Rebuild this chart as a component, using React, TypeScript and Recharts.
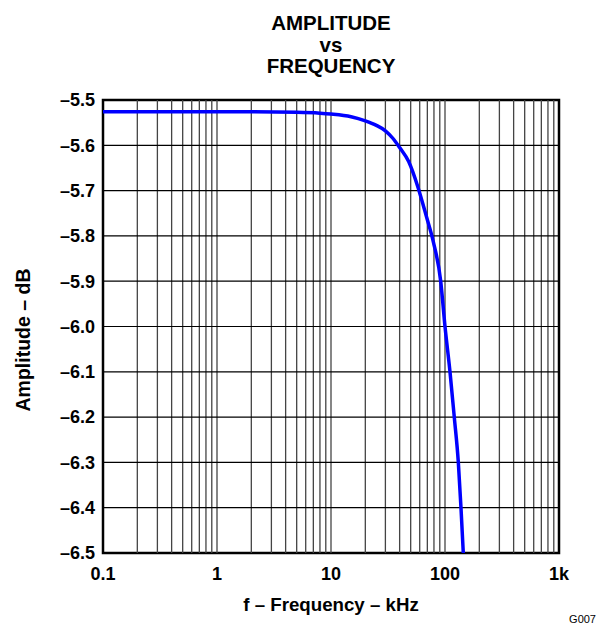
import { LineChart, Line, XAxis, YAxis, ReferenceLine, ReferenceArea } from "recharts";

// f (kHz) vs amplitude (dB)
const freqKHz = [0.1, 0.5, 1, 2, 5, 8, 10, 15, 20, 25, 30, 35, 40, 48, 58, 69, 79, 91.7, 100, 110.6, 120.6, 130.9, 138.1, 144.7];
const amplitudeDb = [-5.526, -5.526, -5.526, -5.526, -5.527, -5.529, -5.531, -5.537, -5.546, -5.556, -5.568, -5.585, -5.605, -5.636, -5.693, -5.759, -5.813, -5.9, -6.0, -6.1, -6.2, -6.3, -6.4, -6.5];

const xTicks = [0.1, 1, 10, 100, 1000];
const yTicks = [-6.5, -6.4, -6.3, -6.2, -6.1, -6.0, -5.9, -5.8, -5.7, -5.6, -5.5];
const xGrid = [
  0.2, 0.3, 0.4, 0.5, 0.6, 0.7, 0.8, 0.9, 1,
  2, 3, 4, 5, 6, 7, 8, 9, 10,
  20, 30, 40, 50, 60, 70, 80, 90, 100,
  200, 300, 400, 500, 600, 700, 800, 900,
];
const yGrid = [-6.4, -6.3, -6.2, -6.1, -6.0, -5.9, -5.8, -5.7, -5.6];

const data = freqKHz.map((f, i) => ({ f, db: amplitudeDb[i] }));

const font = "'Liberation Sans', Arial, sans-serif";
const tickStyle = { fill: "#000", fontSize: 18, fontWeight: 700, fontFamily: font };

const fmtX = (v: number) => (v === 1000 ? "1k" : String(v));
const fmtY = (v: number) => "\u2013" + Math.abs(v).toFixed(1);

export default function App() {
  return (
    <div style={{ position: "absolute", left: 0, top: 0, width: 597, height: 625, background: "#fff" }}>
      <LineChart
        width={597}
        height={625}
        data={data}
        margin={{ top: 100, right: 38, bottom: 42, left: 43 }}
      >
        <XAxis
          dataKey="f"
          type="number"
          scale="log"
          domain={[0.1, 1000]}
          ticks={xTicks}
          tickFormatter={fmtX}
          allowDataOverflow
          axisLine={false}
          tickLine={false}
          tickSize={0}
          tickMargin={14}
          height={30}
          tick={tickStyle}
          interval={0}
        />
        <YAxis
          type="number"
          domain={[-6.5, -5.5]}
          ticks={yTicks}
          tickFormatter={fmtY}
          allowDataOverflow
          axisLine={false}
          tickLine={false}
          tickSize={0}
          tickMargin={8}
          width={60}
          tick={tickStyle}
          interval={0}
        />
        {xGrid.map((v) => (
          <ReferenceLine key={"x" + v} x={v} stroke="#444" strokeWidth={1.3} ifOverflow="visible" />
        ))}
        {yGrid.map((v) => (
          <ReferenceLine key={"y" + v} y={v} stroke="#000" strokeWidth={1.2} ifOverflow="visible" />
        ))}
        <ReferenceArea
          x1={0.1}
          x2={1000}
          y1={-6.5}
          y2={-5.5}
          fill="none"
          fillOpacity={0}
          stroke="#000"
          strokeWidth={2.5}
          ifOverflow="visible"
        />
        <Line
          type="monotone"
          dataKey="db"
          stroke="#0000ff"
          strokeWidth={3.5}
          dot={false}
          isAnimationActive={false}
        />
      </LineChart>
      <svg
        width={597}
        height={625}
        style={{ position: "absolute", left: 0, top: 0, pointerEvents: "none" }}
        fontFamily={font}
      >
        <g fontSize={20.5} fontWeight={700} textAnchor="middle">
          <text x={331} y={30}>AMPLITUDE</text>
          <text x={331} y={51.7}>vs</text>
          <text x={331} y={73.3}>FREQUENCY</text>
        </g>
        <text x={331} y={610.5} fontSize={18.7} fontWeight={700} textAnchor="middle">
          f – Frequency – kHz
        </text>
        <text
          x={0}
          y={0}
          fontSize={19.5}
          fontWeight={700}
          textAnchor="middle"
          transform="translate(30, 340) rotate(-90)"
        >
          Amplitude – dB
        </text>
        <text x={596} y={623} fontSize={11} textAnchor="end">
          G007
        </text>
      </svg>
    </div>
  );
}
